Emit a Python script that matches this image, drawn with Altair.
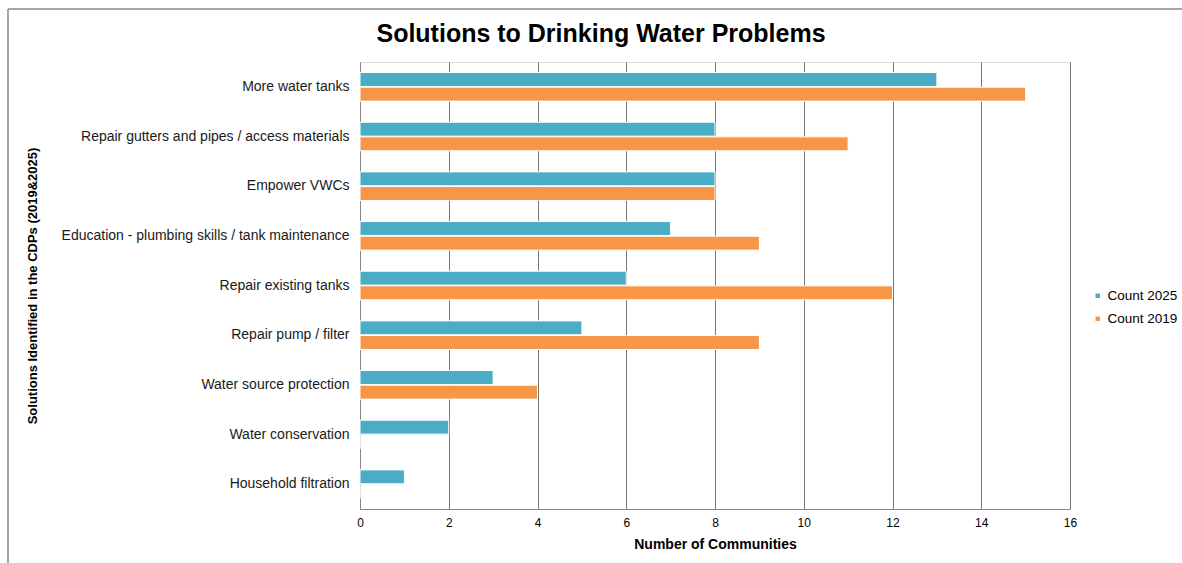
import altair as alt
import pandas as pd

title_text = ["Solutions to Drinking Water Problems"]
categories = [
    "More water tanks",
    "Repair gutters and pipes / access materials",
    "Empower VWCs",
    "Education - plumbing skills / tank maintenance",
    "Repair existing tanks",
    "Repair pump / filter",
    "Water source protection",
    "Water conservation",
    "Household filtration",
]
count_2025 = [13, 8, 8, 7, 6, 5, 3, 2, 1]
count_2019 = [15, 11, 8, 9, 12, 9, 4, 0, 0]
series = ["Count 2025", "Count 2019"]
colors = ["#4BACC6", "#F79646"]

rows = []
for c, a, b in zip(categories, count_2025, count_2019):
    rows.append({"cat": c, "series": series[0], "value": a})
    rows.append({"cat": c, "series": series[1], "value": b})
df = pd.DataFrame(rows)

W, H = 710, 447
FONT = "Liberation Sans"

bars = alt.Chart(df).mark_bar(stroke="white", strokeWidth=1).encode(
    y=alt.Y("cat:N", sort=categories,
            scale=alt.Scale(paddingInner=0, paddingOuter=0),
            axis=alt.Axis(title="Solutions  Identified in the CDPs (2019&2025)",
                          titleFont=FONT, titleFontSize=13, titleFontWeight="bold",
                          titleColor="black", titleX=-321,
                          labelFont=FONT, labelFontSize=14, labelColor="#1a1a1a",
                          labelPadding=11, labelLimit=400, ticks=False,
                          domainColor="#888888", grid=False)),
    yOffset=alt.YOffset("series:N", sort=series,
                        scale=alt.Scale(paddingInner=0.05, paddingOuter=0.72)),
    x=alt.X("value:Q", scale=alt.Scale(domain=[0, 16], nice=False),
            axis=alt.Axis(title="Number of Communities", values=list(range(0, 17, 2)),
                          titleFont=FONT, titleFontSize=14, titleFontWeight="bold",
                          titleColor="black", titlePadding=9,
                          labelFont=FONT, labelFontSize=12, labelColor="black",
                          labelPadding=8, labelFlush=False, ticks=False,
                          domainColor="#888888",
                          grid=True, gridColor="#777777", gridWidth=1)),
    color=alt.Color("series:N", sort=series,
                    scale=alt.Scale(domain=series, range=colors),
                    legend=alt.Legend(title=None, orient="none", legendX=731, legendY=227,
                                      symbolType="square", symbolSize=36, labelOffset=3,
                                      labelFont=FONT, labelFontSize=13.5, labelColor="black",
                                      rowPadding=8)),
)

title = alt.Chart(pd.DataFrame({"t": title_text})).mark_text(
    font=FONT, fontSize=25, fontWeight="bold", color="black",
    align="center", baseline="alphabetic", clip=False).encode(
    text="t:N", x=alt.value(241), y=alt.value(-20))

top_border = alt.Chart(pd.DataFrame({"k": [0]})).mark_rule(color="#888888", strokeWidth=1.5, clip=False).encode(
    x=alt.value(-352), x2=alt.value(830), y=alt.value(-53))
left_border = alt.Chart(pd.DataFrame({"k": [0]})).mark_rule(color="#888888", strokeWidth=1.5, clip=False).encode(
    x=alt.value(-352), y=alt.value(-53), y2=alt.value(510))

chart = alt.layer(top_border, left_border, title, bars).properties(
    width=W, height=H,
    autosize=alt.AutoSizeParams(type="none"),
    padding={"left": 360, "top": 62, "right": 112, "bottom": 54},
).configure_view(stroke=None).configure(background="white")

chart.save("out.html", embed_options={"renderer": "svg", "actions": False})
